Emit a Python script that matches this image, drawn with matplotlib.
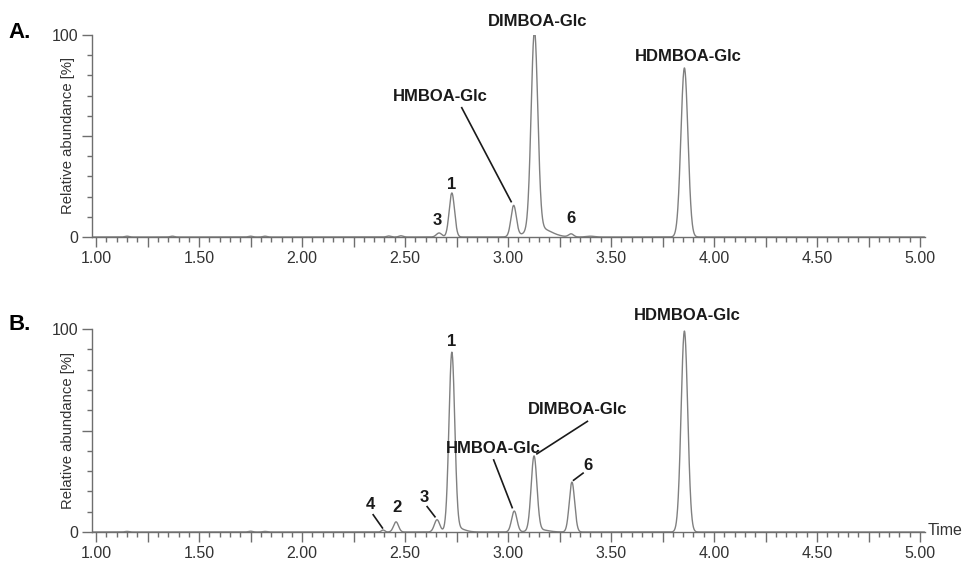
import numpy as np
import matplotlib.pyplot as plt
from matplotlib.ticker import MultipleLocator, FixedLocator, FuncFormatter

plt.rcParams['font.family'] = ['Liberation Sans', 'DejaVu Sans']

# ---- datos: picos (tiempo de retención, altura %, sigma) ----
peaks_a_rt = [1.15, 1.37, 1.75, 1.82, 2.42, 2.48, 2.665, 2.727, 3.027, 3.128, 3.15, 3.306, 3.40, 3.856]
peaks_a_h = [0.4, 0.4, 0.4, 0.4, 0.5, 0.6, 2.0, 21.8, 15.3, 98.0, 4.5, 1.5, 0.4, 83.7]
peaks_a_w = [0.01, 0.01, 0.01, 0.01, 0.01, 0.01, 0.013, 0.013, 0.013, 0.016, 0.055, 0.012, 0.02, 0.017]

peaks_b_rt = [1.15, 1.75, 1.82, 2.393, 2.456, 2.655, 2.727, 2.75, 3.03, 3.126, 3.15, 3.31, 3.856]
peaks_b_h = [0.3, 0.4, 0.3, 1.0, 5.0, 6.0, 87.0, 2.0, 10.3, 36.5, 1.2, 24.6, 99.0]
peaks_b_w = [0.01, 0.01, 0.01, 0.008, 0.012, 0.013, 0.014, 0.035, 0.013, 0.014, 0.04, 0.013, 0.016]

t = np.linspace(0.98, 5.02, 4000)


def trace(rts, hs, ws):
    y = np.zeros_like(t)
    for rt, h, w in zip(rts, hs, ws):
        y += h * np.exp(-0.5 * ((t - rt) / w) ** 2)
    return y


fig = plt.figure(figsize=(9.73, 5.61), dpi=100)
W, H = 973, 561
axA = fig.add_axes([92 / W, (H - 237) / H, (925 - 92) / W, (237 - 35) / H])
axB = fig.add_axes([92 / W, (H - 532) / H, (925 - 92) / W, (532 - 329) / H])

gray = '#6e6e6e'
for ax, (rts, hs, ws) in [(axA, (peaks_a_rt, peaks_a_h, peaks_a_w)),
                          (axB, (peaks_b_rt, peaks_b_h, peaks_b_w))]:
    ax.plot(t, trace(rts, hs, ws), color='#808080', lw=1.0)
    ax.set_xlim(0.98, 5.024)
    ax.set_ylim(0, 100)
    for s in ['top', 'right']:
        ax.spines[s].set_visible(False)
    for s in ['left', 'bottom']:
        ax.spines[s].set_color(gray)
        ax.spines[s].set_linewidth(1.0)
    ax.xaxis.set_major_locator(MultipleLocator(0.25))
    ax.xaxis.set_minor_locator(MultipleLocator(0.05))
    ax.xaxis.set_major_formatter(FuncFormatter(
        lambda v, p: f"{v:.2f}" if abs(v * 2 - round(v * 2)) < 1e-6 else ""))
    ax.yaxis.set_major_locator(FixedLocator([0, 50, 100]))
    ax.yaxis.set_minor_locator(MultipleLocator(10))
    ax.yaxis.set_major_formatter(FuncFormatter(lambda v, p: "" if v == 50 else f"{v:.0f}"))
    ax.tick_params(which='major', length=7, width=1, color=gray, labelsize=11.5,
                   labelcolor='#333333', pad=3)
    ax.tick_params(which='minor', length=3.5, width=1, color=gray)
    ax.set_ylabel("Relative abundance [%]", fontsize=10.7, color='#333333')
    ax.yaxis.set_label_coords(-(92 - 75) / (925 - 92), 0.5)

bold = dict(fontsize=12, fontweight='bold', ha='center', va='center', color='#1a1a1a')

# ---- panel A ----
axA.text(3.145, 106.5, "DIMBOA-Glc", **bold, clip_on=False)
axA.text(3.875, 89.5, "HDMBOA-Glc", **bold)
axA.text(2.67, 69.5, "HMBOA-Glc", **bold)
axA.plot([2.775, 3.015], [64, 17.5], color='#1a1a1a', lw=1.2)
axA.text(2.725, 26, "1", **bold)
axA.text(2.655, 8, "3", **bold)
axA.text(3.305, 9, "6", **bold)

# ---- panel B ----
axB.text(3.87, 106.5, "HDMBOA-Glc", **bold, clip_on=False)
axB.text(2.725, 94, "1", **bold)
axB.text(3.34, 60.5, "DIMBOA-Glc", **bold)
axB.plot([3.385, 3.14], [54.5, 38.5], color='#1a1a1a', lw=1.2)
axB.text(2.93, 41, "HMBOA-Glc", **bold)
axB.plot([2.93, 3.02], [35.5, 12], color='#1a1a1a', lw=1.2)
axB.text(3.39, 33, "6", **bold)
axB.plot([3.364, 3.318], [29, 25.5], color='#1a1a1a', lw=1.2)
axB.text(2.592, 17, "3", **bold)
axB.plot([2.607, 2.645], [12.5, 7.5], color='#1a1a1a', lw=1.2)
axB.text(2.462, 12, "2", **bold)
axB.text(2.33, 13.5, "4", **bold)
axB.plot([2.345, 2.39], [8.5, 2], color='#1a1a1a', lw=1.2)
axB.text(5.12, 0.5, "Time", fontsize=11.5, color='#333333', ha='center', va='center',
         clip_on=False)

fig.text(20 / W, 1 - 33 / H, "A.", fontsize=16, fontweight='bold', ha='center', va='center')
fig.text(20 / W, 1 - 325 / H, "B.", fontsize=16, fontweight='bold', ha='center', va='center')

fig.savefig("out.png", dpi=100)
